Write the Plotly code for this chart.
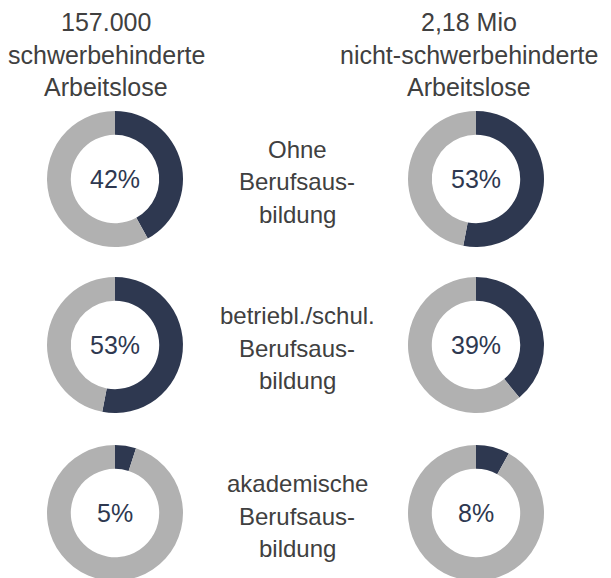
import plotly.graph_objects as go

# data
categories = [["Ohne", "Berufsaus-", "bildung"],
              ["betriebl./schul.", "Berufsaus-", "bildung"],
              ["akademische", "Berufsaus-", "bildung"]]
left_header = ["157.000", "schwerbehinderte", "Arbeitslose"]
right_header = ["2,18 Mio", "nicht-schwerbehinderte", "Arbeitslose"]
left_pct = [42, 53, 5]       # schwerbehinderte Arbeitslose
right_pct = [53, 39, 8]      # nicht-schwerbehinderte Arbeitslose

W, H = 611, 578
OFF = 8   # page body margin
dark = "#2e3850"
grey = "#b1b1b1"
textcol = "#404040"
font = "Liberation Sans, Arial, sans-serif"

# layout in window pixels
col_x = [115, 476]
row_y = [179, 345, 513]
R = 68
mid_x = 297
line_gap = 32.5

fig = go.Figure()


def px_x(x):
    return (x - OFF) / W


def px_y(y):
    return 1 - (y - OFF) / H


for col, pcts in enumerate([left_pct, right_pct]):
    for row, p in enumerate(pcts):
        cx, cy = col_x[col], row_y[row]
        fig.add_trace(go.Pie(
            values=[p, 100 - p],
            marker=dict(colors=[dark, grey], line=dict(width=0)),
            hole=0.65,
            sort=False,
            direction="clockwise",
            rotation=0,
            textinfo="none",
            hoverinfo="skip",
            showlegend=False,
            domain=dict(x=[px_x(cx - R), px_x(cx + R)],
                        y=[max(0, px_y(cy + R)), min(1, px_y(cy - R))]),
        ))
        fig.add_annotation(x=px_x(cx), y=px_y(cy), xref="paper", yref="paper",
                           xanchor="center", yanchor="middle",
                           text=f"{p}%", showarrow=False,
                           font=dict(family=font, size=25, color=dark))

# headers
header_y = [22, 55, 87]
for hx, lines in [(106, left_header), (469, right_header)]:
    for ly, t in zip(header_y, lines):
        fig.add_annotation(x=px_x(hx), y=px_y(ly), xref="paper", yref="paper",
                           xanchor="center", yanchor="middle",
                           text=t, showarrow=False,
                           font=dict(family=font, size=25, color=textcol))

# category labels in the middle
for row, lines in enumerate(categories):
    for i, t in enumerate(lines):
        ly = row_y[row] + (i - 1) * line_gap + 3
        fig.add_annotation(x=px_x(mid_x), y=px_y(ly), xref="paper", yref="paper",
                           xanchor="center", yanchor="middle",
                           text=t, showarrow=False,
                           font=dict(family=font, size=24, color=textcol))

fig.update_layout(width=W, height=H,
                  margin=dict(l=0, r=0, t=0, b=0),
                  paper_bgcolor="white", plot_bgcolor="white")

fig.write_html("out.html")
